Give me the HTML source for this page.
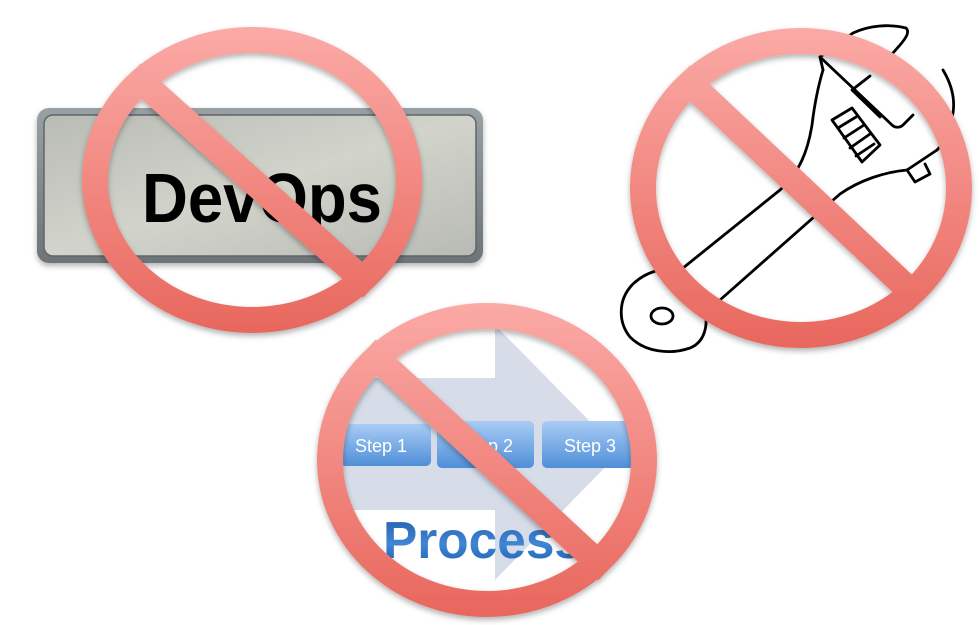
<!DOCTYPE html>
<html><head><meta charset="utf-8"><style>
html,body{margin:0;padding:0;background:#fff;width:979px;height:625px;overflow:hidden}
svg{display:block}
</style></head><body>
<svg width="979" height="625" viewBox="0 0 979 625" xmlns="http://www.w3.org/2000/svg">
<defs>
<linearGradient id="metal" x1="0" y1="0" x2="1" y2="1">
<stop offset="0" stop-color="#b9bcb4"/><stop offset="0.5" stop-color="#d2d4cc"/><stop offset="1" stop-color="#b8bbb3"/>
</linearGradient>
<linearGradient id="frame" x1="0" y1="0" x2="0" y2="1">
<stop offset="0" stop-color="#9aa1a5"/><stop offset="1" stop-color="#6d7478"/>
</linearGradient>
<linearGradient id="step" x1="0" y1="0" x2="0" y2="1">
<stop offset="0" stop-color="#a9ccf6"/><stop offset="1" stop-color="#4f8fd8"/>
</linearGradient>
<linearGradient id="proc" x1="0" y1="0" x2="0" y2="1">
<stop offset="0" stop-color="#1f57a8"/><stop offset="0.55" stop-color="#3f86d4"/><stop offset="1" stop-color="#1c5cae"/>
</linearGradient>
<linearGradient id="r1" gradientUnits="userSpaceOnUse" x1="0" y1="28" x2="0" y2="333">
<stop offset="0" stop-color="#fbaaa6"/><stop offset="1" stop-color="#e8675d"/>
</linearGradient>
<linearGradient id="r2" gradientUnits="userSpaceOnUse" x1="0" y1="302" x2="0" y2="617">
<stop offset="0" stop-color="#fbaaa6"/><stop offset="1" stop-color="#e8675d"/>
</linearGradient>
<linearGradient id="r3" gradientUnits="userSpaceOnUse" x1="0" y1="27" x2="0" y2="348">
<stop offset="0" stop-color="#fbaaa6"/><stop offset="1" stop-color="#e8675d"/>
</linearGradient>
<filter id="sh" x="-10%" y="-10%" width="120%" height="120%"><feDropShadow dx="0" dy="3" stdDeviation="3" flood-color="#000" flood-opacity="0.3"/></filter>
</defs>

<!-- DevOps plate -->
<rect x="37" y="108" width="446" height="155" rx="12" fill="url(#frame)" filter="url(#sh)"/>
<rect x="44" y="115" width="432" height="141" rx="9" fill="url(#metal)" stroke="#5f666a" stroke-width="1.5"/>
<text x="262" y="222" text-anchor="middle" font-family="Liberation Sans, sans-serif" font-weight="bold" font-size="70" fill="#000" textLength="240" lengthAdjust="spacingAndGlyphs">DevOps</text>

<!-- Wrench -->
<g fill="none" stroke="#000" stroke-width="2.8" stroke-linejoin="round" stroke-linecap="round">
<path d="M683,268 L780,190 C800,172 808,150 812,125 C815,100 820,80 823,70"/>
<path d="M720,300 L840,194 C860,180 885,172 907,170 L937,150"/>
<path d="M683,268 C660,268 645,272 632,285 C618,300 618,322 630,337 C645,352 670,355 690,348 C705,342 708,325 705,312 L720,300"/>
<ellipse cx="662" cy="316" rx="11" ry="8"/>
<path d="M823,70 L820,57 L853,33 C870,25 890,24 906,28 C910,32 906,38 900,45 L885,62"/>
<path d="M820,57 L892,125 C895,128 900,128 903,125 L913,115"/>
<path d="M852,90 L880,117 M852,90 L870,76"/>
<path d="M943,70 C952,85 955,100 953,113 C950,130 945,142 937,150"/>
<path d="M832,120 L852,108 L880,145 L862,162 Z"/>
<path d="M838,128 L856,117 M844,138 L864,125 M850,148 L870,134 M856,156 L874,144"/>
<path d="M907,170 L915,182 L930,174 L925,164"/>
</g>

<!-- Process graphic -->
<path d="M340,378 L495,378 L495,325 L620,452 L495,580 L495,510 L340,510 Z" fill="#d6dde9"/>
<rect x="340" y="424" width="91" height="42" rx="5" fill="url(#step)"/>
<rect x="437" y="421" width="97" height="47" rx="5" fill="url(#step)"/>
<rect x="542" y="421" width="92" height="47" rx="5" fill="url(#step)"/>
<g font-family="Liberation Sans, sans-serif" font-size="18" fill="#fff" text-anchor="middle">
<text x="381" y="452">Step 1</text>
<text x="487" y="452">Step 2</text>
<text x="590" y="452">Step 3</text>
</g>
<text x="383" y="558" font-family="Liberation Sans, sans-serif" font-weight="bold" font-size="52" fill="url(#proc)" textLength="200" lengthAdjust="spacingAndGlyphs">Process</text>

<!-- No signs -->
<g filter="url(#sh)">
<line x1="132" y1="73" x2="372" y2="288" stroke="url(#r1)" stroke-width="26"/>
<ellipse cx="252" cy="180" rx="157" ry="140" fill="none" stroke="url(#r1)" stroke-width="26"/>
</g>
<g filter="url(#sh)">
<line x1="367" y1="349" x2="607" y2="571" stroke="url(#r2)" stroke-width="26"/>
<ellipse cx="487" cy="460" rx="157" ry="144" fill="none" stroke="url(#r2)" stroke-width="26"/>
</g>
<g filter="url(#sh)">
<line x1="681" y1="75" x2="921" y2="301" stroke="url(#r3)" stroke-width="26"/>
<ellipse cx="801" cy="188" rx="158" ry="147" fill="none" stroke="url(#r3)" stroke-width="26"/>
</g>
</svg>
</body></html>
